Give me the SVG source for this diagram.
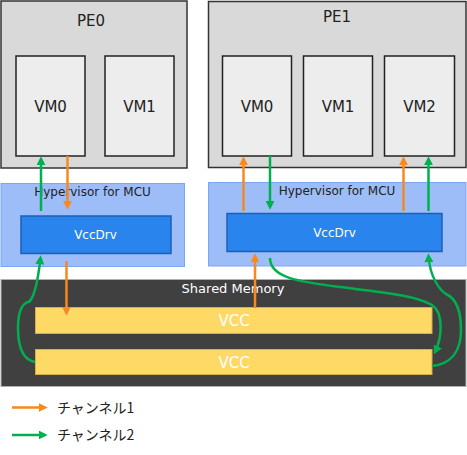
<svg xmlns="http://www.w3.org/2000/svg" width="467" height="455" viewBox="0 0 467 455">
<style>
.pe{fill:#d9d9d9;stroke:#333;stroke-width:1.5}
.vm{fill:#ededed;stroke:#222;stroke-width:1.5}
.hv{fill:#9dbdf8;stroke:#7aa6f2;stroke-width:1}
.drv{fill:#2a84ee;stroke:#1e5fb3;stroke-width:1.5}
.shm{fill:#404040;stroke:#b0b0b0;stroke-width:1}
.vcc{fill:#ffd966;stroke:#d4ae4a;stroke-width:1}
.t{font-family:"DejaVu Sans",Verdana,sans-serif;text-anchor:middle}
.lg{font-family:"Noto Sans CJK JP",sans-serif;font-size:14px;fill:#222}
.o{fill:none;stroke:#f7891f;stroke-width:2.5;marker-end:url(#ao)}
.g{fill:none;stroke:#00b050;stroke-width:2.5;marker-end:url(#ag)}
</style>
<defs>
<marker id="ao" viewBox="0 0 10 10" refX="7" refY="5" markerUnits="userSpaceOnUse" markerWidth="9" markerHeight="9" orient="auto"><path d="M0,0 L10,5 L0,10 z" fill="#f7891f"/></marker>
<marker id="ag" viewBox="0 0 10 10" refX="7" refY="5" markerUnits="userSpaceOnUse" markerWidth="9" markerHeight="9" orient="auto"><path d="M0,0 L10,5 L0,10 z" fill="#00b050"/></marker>
</defs>
<rect width="467" height="455" fill="#fff"/>
<g id="pe0">
<rect class="pe" x="1" y="1" width="186" height="167"/>
<text class="t" x="91" y="26" font-size="15" fill="#222">PE0</text>
</g>
<g id="pe0-vm0"><rect class="vm" x="16" y="56" width="69" height="100"/><text class="t" x="50.5" y="112" font-size="15" fill="#222">VM0</text></g>
<g id="pe0-vm1"><rect class="vm" x="105" y="56" width="69" height="100"/><text class="t" x="139.5" y="112" font-size="15" fill="#222">VM1</text></g>
<g id="pe1">
<rect class="pe" x="208.5" y="1.5" width="257.5" height="166"/>
<text class="t" x="337" y="22" font-size="15" fill="#222">PE1</text>
</g>
<g id="pe1-vm0"><rect class="vm" x="222.5" y="56" width="69" height="100"/><text class="t" x="257" y="112" font-size="15" fill="#222">VM0</text></g>
<g id="pe1-vm1"><rect class="vm" x="303.5" y="56" width="69" height="100"/><text class="t" x="338" y="112" font-size="15" fill="#222">VM1</text></g>
<g id="pe1-vm2"><rect class="vm" x="384.5" y="56" width="70" height="100"/><text class="t" x="419.5" y="112" font-size="15" fill="#222">VM2</text></g>
<g id="hv0">
<rect class="hv" x="1" y="183.5" width="183.5" height="83"/>
<text class="t" x="92.5" y="196" font-size="12" fill="#222">Hypervisor for MCU</text>
</g>
<g id="drv0"><rect class="drv" x="21" y="216" width="150" height="37.5"/><text class="t" x="95.5" y="239" font-size="12" fill="#fff">VccDrv</text></g>
<g id="hv1">
<rect class="hv" x="208.5" y="182.5" width="257.5" height="83.5"/>
<text class="t" x="337" y="195" font-size="12" fill="#222">Hypervisor for MCU</text>
</g>
<g id="drv1"><rect class="drv" x="227" y="213.5" width="215" height="38"/><text class="t" x="334.5" y="237" font-size="12" fill="#fff">VccDrv</text></g>
<g id="shm">
<rect class="shm" x="1" y="279.5" width="465" height="107"/>
<text class="t" x="233" y="293" font-size="13" fill="#fff">Shared Memory</text>
</g>
<g id="vcc1"><rect class="vcc" x="35.5" y="307.5" width="396.5" height="26"/><text class="t" x="234" y="326" font-size="15" fill="#fff">VCC</text></g>
<g id="vcc2"><rect class="vcc" x="35.5" y="349.5" width="396.5" height="25"/><text class="t" x="234" y="367.5" font-size="15" fill="#fff">VCC</text></g>
<g id="connectors">
<path class="g" d="M41,211 L41,159"/>
<path class="o" d="M67.5,156 L67.5,207"/>
<path class="o" d="M66.5,261 L66.5,313"/>
<path class="g" d="M35,362 C24,360 18,348 18,328 C18,312 22,303 29.5,301.5 C35,296 38,280 40.5,258"/>
<path class="o" d="M243.5,211 L243.5,159"/>
<path class="g" d="M270,156 L270,207"/>
<path class="o" d="M403.5,211 L403.5,159"/>
<path class="g" d="M428.5,211 L428.5,159"/>
<path class="o" d="M255,308 L255,256"/>
<path class="g" d="M270,258 C270,278 300,282 340,287 C380,292 415,295 432,305 C444,313 442,338 435,352"/>
<path class="g" d="M432,366 C452,364 461,350 461,330 C461,310 455,298 446,294 C440,290 430,278 428.5,256"/>
</g>
<g id="legend">
<path class="o" d="M12,407.5 L45,407.5"/>
<text class="lg" x="57" y="412.5">チャンネル1</text>
<path class="g" d="M12,435 L45,435"/>
<text class="lg" x="57" y="440">チャンネル2</text>
</g>
</svg>
